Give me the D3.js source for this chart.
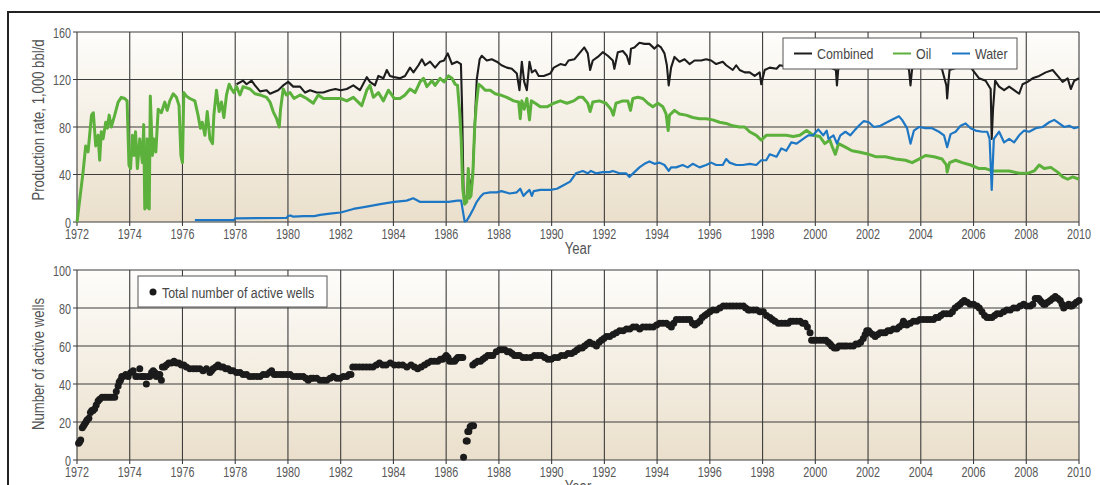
<!DOCTYPE html>
<html>
<head>
<meta charset="utf-8">
<title>Production rate and active wells, 1972-2010</title>
<script src="https://d3js.org/d3.v7.min.js"></script>
<style>
  body { margin: 0; background: #fff; }
  svg text {
    font-family: "Liberation Sans", Arial, sans-serif;
    fill: #525252;
  }
  .grid line { stroke: #3c3c3c; stroke-width: 1.1px; }
  .tick-label { font-size: 15px; fill: #585858; }
  .axis-title { font-size: 16px; }
  .legend text { font-size: 15.5px; fill: #474747; }
</style>
</head>
<body>
<script>
  // ---- data ----
  const years = d3.range(1972, 2011, 2);
  const prodTicks = [0, 40, 80, 120, 160];
  const wellTicks = [0, 20, 40, 60, 80, 100];

  // combined (oil + water) production, 1,000 bbl/d
  const combined = [
    [1978.05,116],[1978.30,119],[1978.43,116],[1978.62,119],[1978.75,115],[1978.94,110],[1979.19,111],[1979.32,108],
    [1979.63,111],[1979.82,115],[1980.01,118],[1980.20,114],[1980.46,114],[1980.65,109],[1980.84,111],[1981.09,109],
    [1981.34,109],[1981.59,111],[1981.80,112],[1982.00,111],[1982.23,112],[1982.48,115],[1982.73,111],[1982.99,122],
    [1983.11,118],[1983.30,115],[1983.43,123],[1983.62,121],[1983.75,128],[1983.87,123],[1984.03,122],[1984.25,121],
    [1984.44,123],[1984.63,130],[1984.76,126],[1984.95,132],[1985.08,137],[1985.20,132],[1985.39,135],[1985.58,130],
    [1985.77,135],[1985.92,136],[1986.06,142],[1986.22,133],[1986.41,135],[1986.56,133],[1986.60,100],[1986.66,25],
    [1986.75,16],[1987.01,40],[1987.10,90],[1987.16,120],[1987.27,137],[1987.35,140],[1987.54,136],[1987.73,137],
    [1987.92,135],[1988.10,132],[1988.30,130],[1988.49,129],[1988.68,125],[1988.78,111],[1988.87,135],[1988.96,118],
    [1989.06,111],[1989.16,135],[1989.25,126],[1989.38,128],[1989.51,123],[1989.70,123],[1989.95,125],[1990.08,130],
    [1990.33,133],[1990.52,132],[1990.64,136],[1990.86,137],[1991.05,142],[1991.24,147],[1991.37,142],[1991.46,128],
    [1991.56,136],[1991.75,139],[1991.94,143],[1992.13,140],[1992.32,136],[1992.38,129],[1992.51,143],[1992.70,144],
    [1992.85,140],[1992.95,133],[1993.01,146],[1993.14,147],[1993.33,151],[1993.52,150],[1993.71,150],[1993.90,146],
    [1994.03,149],[1994.15,147],[1994.28,142],[1994.37,132],[1994.44,115],[1994.53,130],[1994.66,139],[1994.85,135],
    [1995.04,137],[1995.23,133],[1995.42,136],[1995.67,136],[1995.86,137],[1996.05,136],[1996.24,133],[1996.49,135],
    [1996.62,132],[1996.87,128],[1997.00,132],[1997.13,128],[1997.32,126],[1997.51,126],[1997.70,123],[1997.89,126],
    [1997.95,116],[1998.08,128],[1998.27,130],[1998.53,129],[1998.65,132],[1998.90,131],[1999.20,133],[1999.50,132],
    [1999.80,134],[2000.10,133],[2000.50,131],[2000.78,128],[2000.82,115],[2000.87,129],[2001.20,132],[2001.60,133],
    [2002.00,134],[2002.40,132],[2002.80,133],[2003.20,131],[2003.55,129],[2003.61,115],[2003.67,129],[2004.00,132],
    [2004.40,131],[2004.80,129],[2004.97,115],[2005.00,104],[2005.05,118],[2005.09,128],[2005.50,131],[2005.90,130],
    [2006.21,121],[2006.46,119],[2006.65,112],[2006.69,70],[2006.74,95],[2006.82,119],[2006.97,114],[2007.16,111],
    [2007.35,114],[2007.54,111],[2007.73,108],[2007.86,116],[2008.05,118],[2008.24,121],[2008.49,123],[2008.74,126],
    [2009.00,128],[2009.19,123],[2009.38,118],[2009.57,121],[2009.69,112],[2009.82,119],[2010.00,121]
  ];

  const oil = [
    [1972.00,0],[1972.23,42],[1972.33,64],[1972.42,59],[1972.55,90],[1972.62,92],[1972.71,64],[1972.80,73],
    [1972.86,52],[1972.92,76],[1972.99,70],[1973.09,84],[1973.15,79],[1973.22,90],[1973.30,80],[1973.43,90],
    [1973.56,101],[1973.68,105],[1973.81,104],[1973.90,102],[1973.97,48],[1974.03,45],[1974.10,73],[1974.16,56],
    [1974.22,76],[1974.29,45],[1974.38,70],[1974.48,50],[1974.53,82],[1974.57,11],[1974.62,14],[1974.66,70],
    [1974.69,12],[1974.74,11],[1974.78,106],[1974.86,56],[1974.91,70],[1974.99,59],[1975.08,95],[1975.20,92],
    [1975.33,101],[1975.42,94],[1975.52,102],[1975.65,108],[1975.77,105],[1975.87,98],[1975.94,56],[1976.00,50],
    [1976.05,109],[1976.15,106],[1976.28,104],[1976.47,102],[1976.59,90],[1976.68,79],[1976.75,84],[1976.85,73],
    [1976.94,93],[1977.04,70],[1977.14,66],[1977.19,90],[1977.29,111],[1977.39,93],[1977.48,101],[1977.57,88],
    [1977.67,107],[1977.77,116],[1977.86,112],[1977.95,109],[1978.05,114],[1978.18,107],[1978.30,114],[1978.56,112],
    [1978.75,108],[1978.94,107],[1979.19,105],[1979.32,101],[1979.44,93],[1979.57,87],[1979.67,80],[1979.72,95],
    [1979.82,112],[1979.94,107],[1980.08,109],[1980.23,104],[1980.46,107],[1980.71,104],[1980.96,100],[1981.15,107],
    [1981.34,104],[1981.59,104],[1982.00,104],[1982.23,102],[1982.48,105],[1982.80,98],[1982.99,111],[1983.11,115],
    [1983.24,105],[1983.43,109],[1983.62,102],[1983.81,111],[1983.94,107],[1984.03,104],[1984.25,104],[1984.44,107],
    [1984.63,112],[1984.82,109],[1985.01,118],[1985.14,121],[1985.27,114],[1985.46,119],[1985.58,115],[1985.77,121],
    [1985.92,118],[1986.09,123],[1986.22,121],[1986.34,116],[1986.43,115],[1986.51,93],[1986.57,70],[1986.63,28],
    [1986.70,15],[1986.78,17],[1986.84,45],[1986.88,20],[1986.94,22],[1987.01,39],[1987.08,79],[1987.14,98],
    [1987.23,116],[1987.35,114],[1987.48,111],[1987.67,111],[1987.86,108],[1988.05,107],[1988.30,105],[1988.56,102],
    [1988.75,101],[1988.81,87],[1988.87,102],[1988.96,95],[1989.06,104],[1989.16,86],[1989.23,102],[1989.38,100],
    [1989.57,97],[1989.82,97],[1990.08,100],[1990.33,102],[1990.58,100],[1990.84,102],[1991.03,105],[1991.18,105],
    [1991.37,100],[1991.46,93],[1991.56,101],[1991.81,102],[1992.06,100],[1992.25,95],[1992.34,90],[1992.44,100],
    [1992.70,102],[1992.89,102],[1992.99,94],[1993.08,104],[1993.27,105],[1993.46,104],[1993.65,100],[1993.84,97],
    [1994.03,100],[1994.22,97],[1994.34,91],[1994.42,77],[1994.47,90],[1994.66,94],[1994.85,91],[1995.10,90],
    [1995.35,88],[1995.61,87],[1995.86,87],[1996.11,86],[1996.37,84],[1996.62,83],[1996.87,81],[1997.13,80],
    [1997.32,80],[1997.51,76],[1997.76,73],[1997.95,69],[1998.14,73],[1998.39,73],[1998.65,73],[1998.90,73],
    [1999.16,72],[1999.41,73],[1999.67,77],[1999.92,73],[2000.17,72],[2000.36,66],[2000.55,69],[2000.63,64],
    [2000.76,57],[2000.88,66],[2001.14,63],[2001.39,60],[2001.65,59],[2002.03,57],[2002.28,55],[2002.66,55],
    [2003.04,53],[2003.42,52],[2003.67,50],[2003.93,53],[2004.18,56],[2004.50,55],[2004.81,53],[2004.97,48],
    [2005.00,42],[2005.09,50],[2005.32,52],[2005.57,50],[2005.89,48],[2006.21,45],[2006.46,45],[2006.71,43],
    [2007.03,43],[2007.35,43],[2007.73,41],[2008.05,41],[2008.30,43],[2008.49,48],[2008.68,45],[2008.93,46],
    [2009.19,42],[2009.38,38],[2009.57,36],[2009.76,38],[2010.00,36]
  ];

  const water = [
    [1976.47,1.5],[1977.95,1.5],[1978.00,3],[1979.95,3.5],[1980.00,5],[1980.10,5.5],[1980.20,4.5],[1980.60,5],
    [1981.00,5],[1981.22,6],[1981.59,7],[1982.00,8],[1982.48,11],[1982.99,13],[1983.50,15],[1984.03,17],
    [1984.50,18],[1984.75,20],[1985.00,17],[1985.40,17],[1985.80,17],[1986.09,17],[1986.43,18],[1986.57,18],
    [1986.62,11],[1986.70,0.5],[1986.78,1],[1986.91,6],[1987.03,11],[1987.16,17],[1987.29,21],[1987.42,24],
    [1987.67,25],[1987.92,25],[1988.10,26],[1988.41,24],[1988.68,25],[1988.81,28],[1988.93,22],[1989.06,25],
    [1989.16,27],[1989.25,22],[1989.32,26],[1989.57,27],[1989.95,27],[1990.20,28],[1990.45,31],[1990.70,34],
    [1990.92,41],[1991.18,43],[1991.37,41],[1991.49,43],[1991.68,41],[1991.94,42],[1992.19,42],[1992.32,43],
    [1992.57,41],[1992.82,41],[1992.95,38],[1993.14,42],[1993.33,46],[1993.52,49],[1993.71,51],[1993.90,49],
    [1994.09,50],[1994.28,48],[1994.44,43],[1994.53,46],[1994.72,46],[1994.97,48],[1995.16,46],[1995.35,49],
    [1995.61,46],[1995.86,48],[1996.05,50],[1996.24,48],[1996.49,48],[1996.62,53],[1996.75,50],[1997.00,48],
    [1997.25,48],[1997.51,49],[1997.76,48],[1997.95,52],[1998.14,52],[1998.27,57],[1998.53,55],[1998.71,62],
    [1998.90,60],[1999.09,67],[1999.29,66],[1999.54,70],[1999.73,73],[1999.92,73],[2000.11,78],[2000.30,73],
    [2000.43,77],[2000.50,70],[2000.69,73],[2000.82,66],[2000.95,73],[2001.14,76],[2001.33,73],[2001.52,78],
    [2001.65,81],[2001.84,85],[2002.03,84],[2002.22,80],[2002.47,81],[2002.72,84],[2002.98,87],[2003.17,89],
    [2003.29,86],[2003.48,79],[2003.61,66],[2003.74,77],[2003.93,80],[2004.18,79],[2004.43,79],[2004.69,76],
    [2004.88,73],[2005.00,63],[2005.13,74],[2005.32,76],[2005.51,81],[2005.70,83],[2005.89,79],[2006.08,77],
    [2006.33,76],[2006.52,76],[2006.61,70],[2006.69,27],[2006.77,70],[2006.97,76],[2007.16,67],[2007.35,70],
    [2007.54,67],[2007.73,73],[2007.92,77],[2008.11,76],[2008.36,79],[2008.62,80],[2008.87,84],[2009.06,86],
    [2009.25,83],[2009.44,80],[2009.63,81],[2009.82,79],[2010.00,80]
  ];

  // total number of active wells
  const wells = [
    [1972.06,8.8],[1972.10,9.5],[1972.14,10.5],[1972.20,17],[1972.25,18],[1972.29,19],[1972.34,20],[1972.38,21],
    [1972.45,22],[1972.51,25],[1972.56,26],[1972.61,26],[1972.67,27],[1972.73,29],[1972.80,31],[1972.86,32],
    [1972.95,33],[1973.05,33],[1973.14,33],[1973.24,33],[1973.33,33],[1973.43,33],[1973.49,36],[1973.56,39],
    [1973.60,41],[1973.65,42],[1973.70,44],[1973.75,44],[1973.85,45],[1973.94,44],[1974.04,46],[1974.13,47],
    [1974.23,44],[1974.30,44],[1974.38,48],[1974.44,44],[1974.50,44],[1974.57,44],[1974.63,40],[1974.70,44],
    [1974.76,44],[1974.83,46],[1974.89,47],[1974.95,46],[1975.01,44],[1975.08,45],[1975.14,45],[1975.20,42],
    [1975.24,49],[1975.32,49],[1975.39,50],[1975.48,51],[1975.58,51],[1975.68,52],[1975.77,51],[1975.86,51],
    [1975.96,50],[1976.05,50],[1976.15,49],[1976.28,48],[1976.41,48],[1976.53,48],[1976.66,48],[1976.78,47],
    [1976.91,48],[1977.04,46],[1977.10,47],[1977.16,48],[1977.26,49],[1977.35,50],[1977.45,49],[1977.54,49],
    [1977.64,48],[1977.73,48],[1977.83,47],[1977.92,47],[1978.05,46],[1978.18,46],[1978.30,45],[1978.43,45],
    [1978.55,44],[1978.68,44],[1978.81,44],[1978.94,44],[1979.06,45],[1979.19,45],[1979.30,46],[1979.38,47],
    [1979.48,45],[1979.57,45],[1979.70,45],[1979.82,45],[1979.95,45],[1980.08,45],[1980.20,44],[1980.33,44],
    [1980.45,44],[1980.58,44],[1980.68,43],[1980.77,42],[1980.87,43],[1980.96,43],[1981.09,43],[1981.22,42],
    [1981.35,42],[1981.47,42],[1981.60,43],[1981.72,44],[1981.85,43],[1981.97,43],[1982.10,44],[1982.23,44],
    [1982.32,45],[1982.39,45],[1982.46,49],[1982.58,49],[1982.71,49],[1982.84,49],[1982.97,49],[1983.10,49],
    [1983.22,49],[1983.35,50],[1983.47,51],[1983.60,50],[1983.72,50],[1983.88,51],[1984.04,50],[1984.20,50],
    [1984.35,50],[1984.51,49],[1984.67,50],[1984.80,49],[1984.92,48],[1985.05,49],[1985.18,50],[1985.30,51],
    [1985.43,52],[1985.55,52],[1985.68,52],[1985.78,53],[1985.87,53],[1985.94,54],[1986.00,55],[1986.07,54],
    [1986.13,52],[1986.22,52],[1986.32,52],[1986.38,53],[1986.44,54],[1986.50,54],[1986.57,54],[1986.63,54],
    [1986.66,1.4],[1986.76,10],[1986.80,10],[1986.82,15],[1986.86,15],[1986.91,17.5],[1986.96,18],[1987.04,18],
    [1987.01,50],[1987.10,51],[1987.20,52],[1987.30,52],[1987.39,53],[1987.48,54],[1987.58,55],[1987.68,55],
    [1987.77,55],[1987.90,57],[1988.03,58],[1988.12,58],[1988.22,58],[1988.32,57],[1988.41,57],[1988.50,56],
    [1988.59,55],[1988.69,55],[1988.78,55],[1988.91,54],[1989.04,54],[1989.20,54],[1989.35,55],[1989.48,55],
    [1989.61,55],[1989.74,54],[1989.86,53],[1989.98,53],[1990.11,54],[1990.24,54],[1990.37,55],[1990.50,55],
    [1990.62,56],[1990.75,56],[1990.87,57],[1990.97,58],[1991.06,59],[1991.16,59],[1991.25,60],[1991.35,61],
    [1991.44,62],[1991.57,61],[1991.70,60],[1991.80,62],[1991.89,63],[1991.98,64],[1992.08,65],[1992.20,65],
    [1992.33,66],[1992.45,67],[1992.58,68],[1992.71,68],[1992.84,69],[1992.96,69],[1993.09,70],[1993.21,70],
    [1993.34,69],[1993.46,70],[1993.59,70],[1993.72,70],[1993.85,70],[1993.98,71],[1994.10,72],[1994.22,72],
    [1994.35,72],[1994.45,71],[1994.54,70],[1994.63,72],[1994.73,74],[1994.86,74],[1994.99,74],[1995.12,74],
    [1995.24,74],[1995.34,72],[1995.43,71],[1995.52,72],[1995.62,73],[1995.71,75],[1995.81,76],[1995.90,77],
    [1996.00,78],[1996.12,79],[1996.25,79],[1996.38,80],[1996.51,81],[1996.63,81],[1996.76,81],[1996.88,81],
    [1997.01,81],[1997.14,81],[1997.27,81],[1997.36,80],[1997.46,79],[1997.52,79],[1997.65,79],[1997.77,79],
    [1997.90,78],[1998.03,78],[1998.15,76],[1998.28,75],[1998.37,74],[1998.47,73],[1998.60,72],[1998.72,72],
    [1998.85,72],[1998.97,72],[1999.06,73],[1999.16,73],[1999.29,73],[1999.42,73],[1999.52,72],[1999.61,72],
    [1999.70,70],[1999.80,67],[1999.86,63],[1999.95,63],[2000.05,63],[2000.18,63],[2000.30,63],[2000.40,63],
    [2000.49,62],[2000.56,61],[2000.62,60],[2000.72,59],[2000.81,59],[2000.90,60],[2001.00,60],[2001.10,60],
    [2001.19,60],[2001.32,60],[2001.44,60],[2001.54,61],[2001.63,61],[2001.72,62],[2001.82,64],[2001.89,66],
    [2001.95,68],[2002.02,68],[2002.08,67],[2002.18,66],[2002.27,65],[2002.37,66],[2002.46,67],[2002.56,67],
    [2002.65,67],[2002.75,68],[2002.84,68],[2002.96,69],[2003.09,69],[2003.18,70],[2003.28,71],[2003.34,73],
    [2003.40,72],[2003.47,71],[2003.60,72],[2003.72,73],[2003.85,73],[2003.97,74],[2004.10,74],[2004.23,74],
    [2004.35,74],[2004.48,74],[2004.57,75],[2004.67,75],[2004.76,76],[2004.86,77],[2004.98,77],[2005.11,77],
    [2005.20,78],[2005.30,80],[2005.40,81],[2005.49,82],[2005.57,83],[2005.65,84],[2005.76,83],[2005.87,82],
    [2006.00,82],[2006.13,81],[2006.22,80],[2006.32,78],[2006.42,76],[2006.51,75],[2006.60,75],[2006.70,75],
    [2006.80,76],[2006.89,77],[2007.01,77],[2007.14,78],[2007.26,79],[2007.39,79],[2007.52,80],[2007.65,80],
    [2007.77,81],[2007.90,82],[2008.02,81],[2008.15,81],[2008.25,82],[2008.34,85],[2008.40,85],[2008.47,85],
    [2008.53,84],[2008.59,83],[2008.66,82],[2008.72,82],[2008.81,83],[2008.91,84],[2009.00,85],[2009.10,86],
    [2009.20,85],[2009.29,84],[2009.36,82],[2009.42,80],[2009.51,81],[2009.61,82],[2009.67,81],[2009.73,81],
    [2009.81,82],[2009.90,83],[2010.00,84]
  ];

  const seriesColors = { Combined: "#1d1d1d", Oil: "#5cb13c", Water: "#1e77c4" };

  // ---- layout ----
  const W = 1100, H = 485;
  const left = 77, right = 1079;
  const top1 = 32, bot1 = 222;
  const top2 = 270, bot2 = 460;

  const svg = d3.select("body").append("svg")
      .attr("width", W)
      .attr("height", H);

  // the original uses a condensed face: squeeze Liberation Sans horizontally
  function label(parent, x, y, str, cls, anchor, sq, rotate) {
    const g = parent.append("g")
        .attr("transform", `translate(${x},${y})${rotate ? " rotate(-90)" : ""} scale(${sq},1)`);
    g.append("text")
        .attr("class", cls)
        .attr("text-anchor", anchor)
        .text(str);
    return g;
  }

  const defs = svg.append("defs");
  const grad = defs.append("linearGradient")
      .attr("id", "bg").attr("x1", 0).attr("y1", 0).attr("x2", 0).attr("y2", 1);
  grad.append("stop").attr("offset", "0%").attr("stop-color", "#fefdfb");
  grad.append("stop").attr("offset", "100%").attr("stop-color", "#eadfcb");

  // outer frame (right and bottom edges fall outside the window)
  svg.append("rect")
      .attr("x", 8).attr("y", 12)
      .attr("width", 1200).attr("height", 600)
      .attr("fill", "none")
      .attr("stroke", "#222")
      .attr("stroke-width", 2);

  const x = d3.scaleLinear().domain([1972, 2010]).range([left, right]);
  const yTop = d3.scaleLinear().domain([0, 160]).range([bot1, top1]);
  const yBot = d3.scaleLinear().domain([0, 100]).range([bot2, top2]);

  function panel(y, ticks, yTitle, titleMid) {
    const [y0, y1] = y.range();
    const g = svg.append("g");
    g.append("rect")
        .attr("x", left).attr("y", y1)
        .attr("width", right - left).attr("height", y0 - y1)
        .attr("fill", "url(#bg)");

    const grid = g.append("g").attr("class", "grid");
    grid.selectAll(".v").data(years).enter().append("line")
        .attr("x1", d => x(d)).attr("x2", d => x(d))
        .attr("y1", y1).attr("y2", y0 + 4);
    grid.selectAll(".h").data(ticks).enter().append("line")
        .attr("x1", left - 4).attr("x2", right)
        .attr("y1", d => y(d)).attr("y2", d => y(d));

    years.forEach(d => label(g, x(d), y0 + 16.5, d, "tick-label", "middle", 0.72));
    ticks.forEach(d => label(g, left - 6, y(d) + 5.5, d, "tick-label", "end", 0.72));

    label(g, 44, titleMid, yTitle, "axis-title", "middle", 0.82, true);
    label(g, (left + right) / 2, y0 + 32, "Year", "axis-title", "middle", 0.82);
    return g;
  }

  const p1 = panel(yTop, prodTicks, "Production rate, 1,000 bbl/d", 120);
  const p2 = panel(yBot, wellTicks, "Number of active wells", 364);

  const line = d3.line().x(d => x(d[0])).y(d => yTop(d[1]));

  p1.append("path").datum(combined)
      .attr("fill", "none").attr("stroke", seriesColors.Combined)
      .attr("stroke-width", 2.1).attr("stroke-linejoin", "round")
      .attr("d", line);
  p1.append("path").datum(oil)
      .attr("fill", "none").attr("stroke", seriesColors.Oil)
      .attr("stroke-width", 3).attr("stroke-linejoin", "round")
      .attr("d", line);
  p1.append("path").datum(water)
      .attr("fill", "none").attr("stroke", seriesColors.Water)
      .attr("stroke-width", 2.2).attr("stroke-linejoin", "round")
      .attr("d", line);

  // top legend
  const leg1 = p1.append("g").attr("class", "legend");
  leg1.append("rect")
      .attr("x", 783).attr("y", 38).attr("width", 234).attr("height", 31)
      .attr("fill", "#fff").attr("stroke", "#555").attr("stroke-width", 1);
  const legItems = [
    { name: "Combined", x: 794 },
    { name: "Oil", x: 893 },
    { name: "Water", x: 952 }
  ];
  legItems.forEach(it => {
    leg1.append("line")
        .attr("x1", it.x).attr("x2", it.x + 18)
        .attr("y1", 53.5).attr("y2", 53.5)
        .attr("stroke", seriesColors[it.name]).attr("stroke-width", 2);
    label(leg1, it.x + 23, 59, it.name, "", "start", 0.8);
  });

  // wells scatter
  p2.append("g").selectAll("circle").data(wells).enter().append("circle")
      .attr("cx", d => x(d[0]))
      .attr("cy", d => yBot(d[1]))
      .attr("r", 3.5)
      .attr("fill", "#1b1b1b");

  const leg2 = p2.append("g").attr("class", "legend");
  leg2.append("rect")
      .attr("x", 138).attr("y", 276).attr("width", 189).attr("height", 31)
      .attr("fill", "#fff").attr("stroke", "#555").attr("stroke-width", 1);
  leg2.append("circle")
      .attr("cx", 153).attr("cy", 292).attr("r", 3.5).attr("fill", "#1b1b1b");
  label(leg2, 162, 297.5, "Total number of active wells", "", "start", 0.8);
</script>
</body>
</html>
